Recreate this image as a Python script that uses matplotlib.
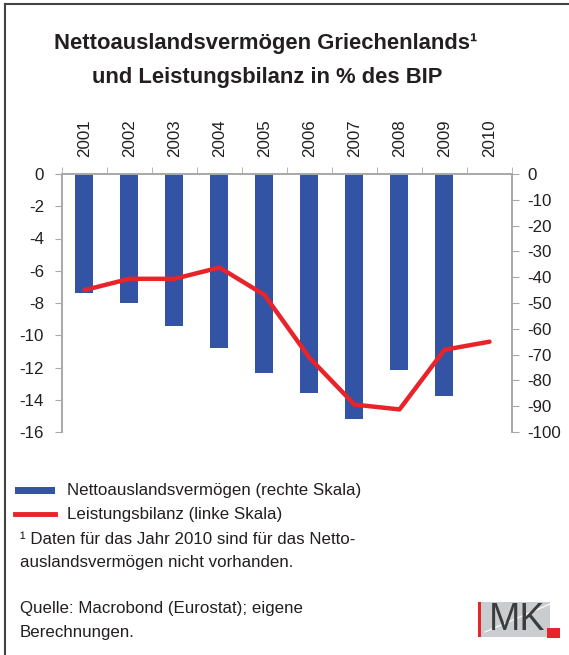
import matplotlib
matplotlib.use("Agg")
import matplotlib.pyplot as plt
from matplotlib.patches import Rectangle
from matplotlib.lines import Line2D

plt.rcParams['font.family'] = ['Liberation Sans', 'DejaVu Sans']

# data
years = ['2001', '2002', '2003', '2004', '2005', '2006', '2007', '2008', '2009', '2010']
netto = [-46, -50, -59, -67.5, -77, -85, -95, -76, -86, None]   # right scale
leistung = [-7.2, -6.5, -6.5, -5.8, -7.5, -11.4, -14.3, -14.6, -10.9, -10.4]  # left scale
left_ticks = [0, -2, -4, -6, -8, -10, -12, -14, -16]
right_ticks = [0, -10, -20, -30, -40, -50, -60, -70, -80, -90, -100]

blue = '#3353a5'
red = '#e8232a'
grey = '#a8a8a8'
txt = '#231f20'
fs = 12.2

W, H = 569, 655
fig = plt.figure(figsize=(W / 100, H / 100), dpi=100)

ax = fig.add_axes([62 / W, 1 - 432 / H, (512 - 62) / W, (432 - 174) / H])
ax2 = ax.twinx()

x = list(range(len(years)))
bx = [i for i, v in zip(x, netto) if v is not None]
bv = [v for v in netto if v is not None]
ax2.bar(bx, bv, width=0.4, color=blue)
ax.plot(x, leistung, color=red, lw=3.2, solid_capstyle='round', solid_joinstyle='round')

ax.set_zorder(ax2.get_zorder() + 1)
ax.patch.set_visible(False)

ax.set_xlim(-0.5, 9.5)
ax.set_ylim(-16, 0)
ax2.set_ylim(-100, 0)

ax.set_yticks(left_ticks)
ax.set_yticklabels([str(t) for t in left_ticks])
ax2.set_yticks(right_ticks)
ax2.set_yticklabels([str(t) for t in right_ticks])

ax.xaxis.tick_top()
ax.set_xticks(x)
ax.set_xticklabels(years, rotation=90, fontsize=fs, color=txt)
ax.tick_params(axis='x', which='major', length=0, pad=12)
ax.set_xticks([i - 0.5 for i in range(11)], minor=True)
ax.tick_params(axis='x', which='minor', length=5, color=grey, direction='out', top=True, bottom=False)

ax.tick_params(axis='y', length=5, color=grey, labelsize=fs, labelcolor=txt, pad=8)
ax2.tick_params(axis='y', length=5, color=grey, labelsize=fs, labelcolor=txt, pad=6)

for a in (ax, ax2):
    a.spines['bottom'].set_visible(False)
    for s in ('top', 'left', 'right'):
        a.spines[s].set_color(grey)
        a.spines[s].set_linewidth(1.2)

# frame
fig.add_artist(Line2D([5 / W, 5 / W], [0, 1 - 4 / H], transform=fig.transFigure, color='#444444', lw=1.5))
fig.add_artist(Line2D([5 / W, 1], [1 - 4 / H, 1 - 4 / H], transform=fig.transFigure, color='#444444', lw=1.5))

# title
fig.text(266 / W, 1 - 44 / H, 'Nettoauslandsvermögen Griechenlands¹', ha='center', va='center',
         fontsize=15.8, fontweight='bold', color=txt)
fig.text(267 / W, 1 - 77 / H, 'und Leistungsbilanz in % des BIP', ha='center', va='center',
         fontsize=15.8, fontweight='bold', color=txt)

# legend
fig.add_artist(Rectangle((15 / W, 1 - 494 / H), 40 / W, 7 / H, transform=fig.transFigure,
                         color=blue, lw=0))
fig.add_artist(Line2D([15 / W, 55 / W], [1 - 514 / H, 1 - 514 / H], transform=fig.transFigure,
                      color=red, lw=3.5))
fig.text(67 / W, 1 - 491 / H, 'Nettoauslandsvermögen (rechte Skala)', va='center', fontsize=fs, color=txt)
fig.text(67 / W, 1 - 515 / H, 'Leistungsbilanz (linke Skala)', va='center', fontsize=fs, color=txt)

fig.text(20 / W, 1 - 539 / H, '¹ Daten für das Jahr 2010 sind für das Netto-', va='center', fontsize=fs, color=txt)
fig.text(20 / W, 1 - 563 / H, 'auslandsvermögen nicht vorhanden.', va='center', fontsize=fs, color=txt)
fig.text(20 / W, 1 - 608 / H, 'Quelle: Macrobond (Eurostat); eigene', va='center', fontsize=fs, color=txt)
fig.text(20 / W, 1 - 632 / H, 'Berechnungen.', va='center', fontsize=fs, color=txt)

# IMK logo
fig.add_artist(Rectangle((478 / W, 1 - 637 / H), 72 / W, 35 / H, transform=fig.transFigure,
                         color='#c9cdd0', lw=0))
fig.add_artist(Line2D([485 / W, 550 / W], [1 - 632 / H, 1 - 604 / H], transform=fig.transFigure,
                      color='white', lw=0.8))
fig.add_artist(Rectangle((478 / W, 1 - 637 / H), 3 / W, 35 / H, transform=fig.transFigure,
                         color=red, lw=0))
fig.text(517 / W, 1 - 620 / H, 'MK', ha='center', va='center', fontsize=27, color='#3c3c3c')
fig.add_artist(Rectangle((547 / W, 1 - 638 / H), 13 / W, 10 / H, transform=fig.transFigure,
                         color=red, lw=0))

fig.savefig('out.png', dpi=100)
